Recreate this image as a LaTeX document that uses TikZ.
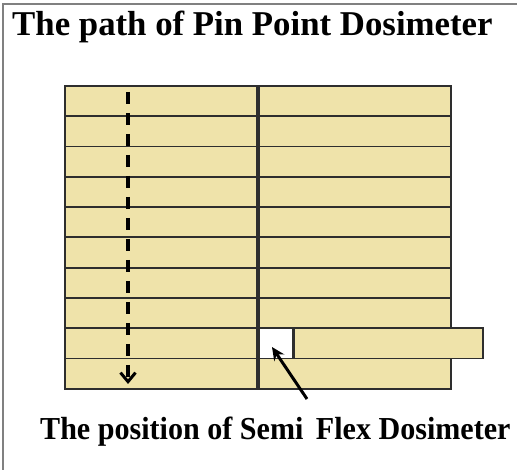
\documentclass[tikz,border=0pt]{standalone}
\usepackage{fontspec}
\setmainfont{Liberation Serif}
\usetikzlibrary{arrows.meta}
\definecolor{beige}{HTML}{EFE3AA}
\definecolor{edge}{HTML}{2E2E2E}
\tikzset{
  cell/.style={draw=edge, line width=1.8pt, fill=beige, anchor=north west, inner sep=0pt, minimum height=30.3pt},
  hole/.style={draw=edge, line width=1.8pt, fill=white, anchor=north west, inner sep=0pt, minimum height=30.3pt, minimum width=34pt},
  label/.style={font=\bfseries, inner sep=0pt, anchor=base west},
}
\begin{document}
\begin{tikzpicture}[x=1pt,y=-1pt]
\useasboundingbox (0,0) rectangle (517,470);
\draw[gray, line width=1.2pt] (3,470) -- (3,4) -- (517,4);
\fill[edge] (255,85) rectangle (259,388);
\foreach \i in {0,...,9} {
  \node[cell, minimum width=192pt] (L\i) at (64,{85+30.3*\i}) {};
}
\foreach \i in {0,...,7,9} {
  \node[cell, minimum width=192pt] (R\i) at (258,{85+30.3*\i}) {};
}
\node[hole] (hole) at (258,{85+30.3*8}) {};
\node[cell, minimum width=189pt] (R8) at (293,{85+30.3*8}) {};
\node[label, font=\bfseries\fontsize{34.8}{38}\selectfont] (title) at (12,36) {The path of Pin Point Dosimeter};
\node[label, font=\bfseries\fontsize{32}{36}\selectfont] (caption) at (40,439) {\scalebox{0.94}[1]{The position of Semi\, Flex Dosimeter}};
\coordinate (pstart) at (128,92);
\coordinate (pend) at (128,384);
\draw[line width=3.5pt, dash pattern=on 12pt off 9pt, -{Straight Barb[length=9pt,width=15pt,line width=3pt]}] (pstart) -- (pend);
\coordinate (tail) at (307,399);
\coordinate (tip) at (272,347);
\draw[line width=3pt, -{Stealth[length=13pt,width=12pt]}] (tail) -- (tip);
\end{tikzpicture}
\end{document}
